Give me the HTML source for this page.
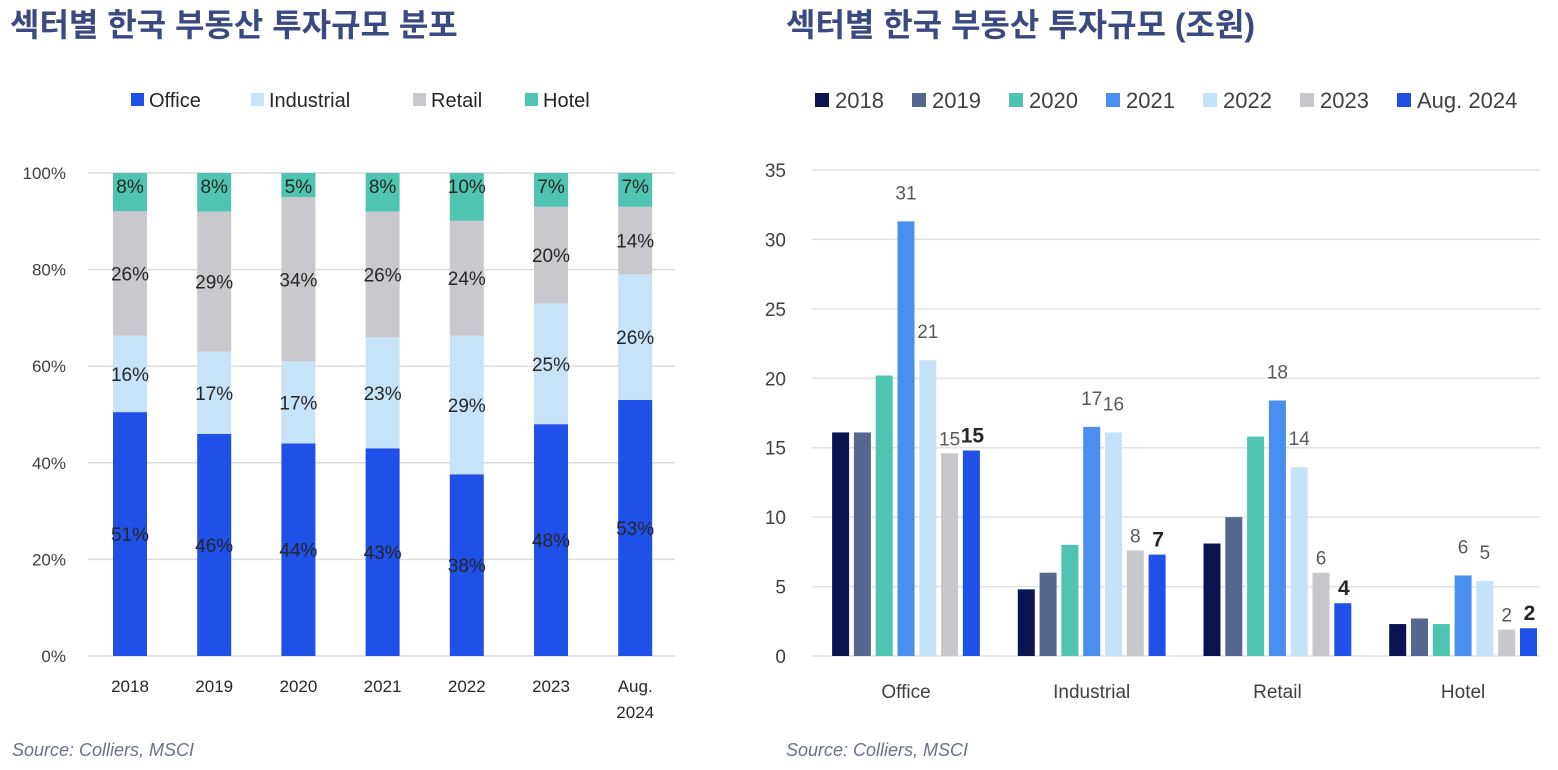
<!DOCTYPE html>
<html><head><meta charset="utf-8">
<style>
html,body{margin:0;padding:0;background:#fff;width:1558px;height:770px;overflow:hidden}
svg{display:block;font-family:"Liberation Sans","Noto Sans CJK KR",sans-serif}
</style></head>
<body>
<svg id="svg" width="1558" height="770" viewBox="0 0 1558 770">
<text x="10" y="36" font-size="32" font-weight="bold" fill="#3a4a80">섹터별 한국 부동산 투자규모 분포</text>
<text x="786" y="36" font-size="32" font-weight="bold" fill="#3a4a80">섹터별 한국 부동산 투자규모 (조원)</text>
<text x="12" y="756" font-size="18" font-style="italic" fill="#6a7288">Source: Colliers, MSCI</text>
<text x="786" y="756" font-size="18" font-style="italic" fill="#6a7288">Source: Colliers, MSCI</text>
<g id="left"></g>
<g id="right"></g>
</svg>
<script>
// Left chart data
const years = ["2018","2019","2020","2021","2022","2023","Aug.|2024"];
const sectors = ["Office","Industrial","Retail","Hotel"];
const officePct = [51,46,44,43,38,48,53];
const industrialPct = [16,17,17,23,29,25,26];
const retailPct = [26,29,34,26,24,20,14];
const hotelPct = [8,8,5,8,10,7,7];
const pctTicks = ["0%","20%","40%","60%","80%","100%"];
// Right chart data
const groups = ["Office","Industrial","Retail","Hotel"];
const seriesNames = ["2018","2019","2020","2021","2022","2023","Aug. 2024"];
const s2018 = [16.1,4.8,8.1,2.3];
const s2019 = [16.1,6.0,10.0,2.7];
const s2020 = [20.2,8.0,15.8,2.3];
const s2021 = [31.3,16.5,18.4,5.8];
const s2022 = [21.3,16.1,13.6,5.4];
const s2023 = [14.6,7.6,6.0,1.9];
const s2024 = [14.8,7.3,3.8,2.0];
const valueTicks = [0,5,10,15,20,25,30,35];

const NS="http://www.w3.org/2000/svg";
function mk(tag,attrs,parent,text){const e=document.createElementNS(NS,tag);for(const k in attrs)e.setAttribute(k,attrs[k]);if(text!==undefined)e.textContent=text;parent.appendChild(e);return e;}

// ---- Left chart ----
const L=document.getElementById('left');
const secColors=["#1f50e8","#c6e3f8","#c9c8cd","#4fc4b0"];
const lY0=656,lY1=173,lX0=88,lX1=675;
const ly=v=>lY0-(v/100)*(lY0-lY1);
const lx=i=>130+i*84.2;
pctTicks.forEach((t,i)=>{
  const v=i*20;
  const g=mk('line',{x1:lX0,x2:lX1,y1:ly(v),y2:ly(v),stroke:"#dcdcdc","stroke-width":1.5},L);
  
  
  const tx=mk('text',{x:66,y:ly(v)+6,"font-size":17,"text-anchor":"end",fill:"#404040"},L,t);
  
  
});
const secData=[officePct,industrialPct,retailPct,hotelPct];
years.forEach((yr,i)=>{
  const tot=secData.reduce((a,s)=>a+s[i],0);
  let acc=0;
  secData.forEach((s,k)=>{
    const v=s[i]/tot*100;
    const yTop=ly(acc+v),yBot=ly(acc);
    const r=mk('rect',{x:lx(i)-17,y:yTop,width:34,height:yBot-yTop,fill:secColors[k]},L);
    
    
    const lbl=mk('text',{x:lx(i),y:(k===3?yTop+20:(yTop+yBot)/2+7),"font-size":19,"text-anchor":"middle",fill:"#262626"},L,s[i]+"%");
    
    
    acc+=v;
  });
  const parts=yr.split('|');
  parts.forEach((p,j)=>{
    const t=mk('text',{x:lx(i),y:692+j*26,"font-size":17,"text-anchor":"middle",fill:"#262626"},L,p);
    
    
  });
});
// left legend
const legX=[131,251,413,525];
sectors.forEach((s,k)=>{
  const r=mk('rect',{x:legX[k],y:93,width:13,height:13,fill:secColors[k]},L);
  
  
  const t=mk('text',{x:legX[k]+18,y:107,"font-size":20,fill:"#262626"},L,s);
  
  
});

// ---- Right chart ----
const R=document.getElementById('right');
const serColors=["#0a1450","#54678f","#4fc4b0","#4a8ff0","#c4e2f8","#c8c8cc","#1f50e8"];
const series=[s2018,s2019,s2020,s2021,s2022,s2023,s2024];
const rY0=656,rX0=812,rX1=1540;
const ry=v=>rY0-v*(486/35);
const gx=g=>906+g*185.7;
valueTicks.forEach(v=>{
  const g=mk('line',{x1:rX0,x2:rX1,y1:ry(v),y2:ry(v),stroke:"#e2e2e2","stroke-width":1.5},R);
  
  
  const t=mk('text',{x:786,y:ry(v)+7,"font-size":19,"text-anchor":"end",fill:"#404040"},R,String(v));
  
  
});
groups.forEach((g,gi)=>{
  series.forEach((s,si)=>{
    const cx=gx(gi)+(si-3)*21.8;
    const r=mk('rect',{x:cx-8.5,y:ry(s[gi]),width:17,height:rY0-ry(s[gi]),fill:serColors[si]},R);
    
    
    if(si>=3){
      const bold=si===6;
      const t=mk('text',{x:cx+(si===6?1:0),y:ry(s[gi])-(si===5||si===6?8:22),"font-size":bold?21:19,"font-weight":bold?"bold":"normal","text-anchor":"middle",fill:bold?"#262626":"#595959"},R,String(Math.round(s[gi])));
      
      
    }
  });
  const t=mk('text',{x:gx(gi),y:698,"font-size":19,"text-anchor":"middle",fill:"#404040"},R,g);
  
  
});
const rLegX=[815,912,1009,1106,1203,1300,1397];
seriesNames.forEach((n,i)=>{
  const r=mk('rect',{x:rLegX[i],y:93,width:14,height:14,fill:serColors[i]},R);
  
  
  const t=mk('text',{x:rLegX[i]+20,y:108,"font-size":22,fill:"#404040"},R,n);
  
  
});
</script>
</body></html>
